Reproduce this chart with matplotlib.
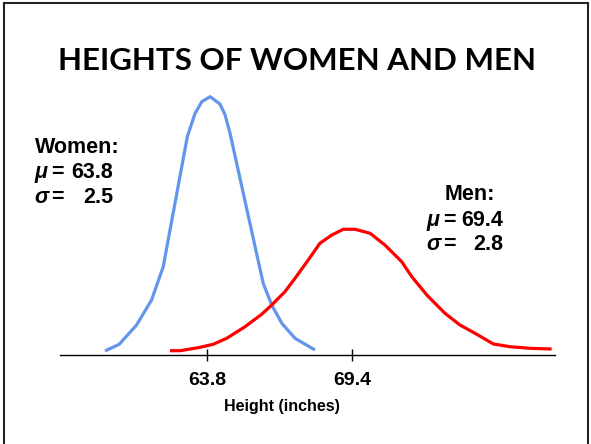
import matplotlib
matplotlib.use("Agg")
import matplotlib.pyplot as plt
from matplotlib.lines import Line2D

# ---- data (heights in inches, relative density in arbitrary units) ----
women_x = [59.86, 60.41, 61.08, 61.66, 62.11, 63.04, 63.34, 63.60, 63.92,
           64.30, 64.50, 64.69, 65.97, 66.30, 66.69, 67.20, 67.97]
women_y = [4.0, 10.7, 30.0, 55.0, 88.3, 218.3, 241.7, 253.3, 258.3,
           251.0, 240.0, 221.7, 71.7, 50.0, 31.7, 16.7, 5.0]

men_x = [62.37, 62.76, 63.46, 64.04, 64.56, 65.27, 65.91, 66.30, 66.81, 67.20,
         67.71, 68.16, 68.62, 69.06, 69.52, 70.10, 70.67, 71.32, 71.71, 72.29,
         72.99, 73.57, 74.22, 74.86, 75.50, 76.27, 77.11]
men_y = [4.3, 4.3, 7.3, 10.7, 16.7, 28.3, 40.7, 50.0, 63.3, 76.7,
         95.0, 111.7, 120.0, 125.7, 125.7, 121.7, 110.0, 93.3, 78.3, 60.0,
         41.7, 30.0, 20.7, 11.0, 8.3, 6.7, 6.0]

tick_values = [63.8, 69.4]
tick_labels = ["63.8", "69.4"]

title = "HEIGHTS OF WOMEN AND MEN"
xlabel = "Height (inches)"
women_stats = ("Women:", "63.8", "2.5")
men_stats = ("Men:", "69.4", "2.8")

# ---- figure ----
W, H = 591, 444
fig = plt.figure(figsize=(W / 100, H / 100), dpi=100)
fig.patch.set_facecolor("white")

def fx(x):
    return x / W

def fy(y):
    return 1 - y / H

# axes: x pixel 60..555, baseline at pixel 355, top at pixel 90
ax = fig.add_axes([fx(60), fy(355), (555 - 60) / W, (355 - 90) / H])
ax.set_xlim(58.123, 77.24)
ax.set_ylim(0, 265)
ax.patch.set_alpha(0)

ax.plot(women_x, women_y, color="#6495ED", lw=2.3, solid_joinstyle="round",
        solid_capstyle="butt")
ax.plot(men_x, men_y, color="#FF0000", lw=2.3, solid_joinstyle="round",
        solid_capstyle="butt")

for s in ["top", "right", "left"]:
    ax.spines[s].set_visible(False)
ax.spines["bottom"].set_linewidth(1.0)
ax.set_yticks([])
ax.set_xticks(tick_values)
ax.set_xticklabels(tick_labels, fontfamily="Liberation Sans", fontweight="bold",
                   fontsize=14)
ax.tick_params(axis="x", direction="inout", length=8, width=1.0, pad=8)

fig.text(fx(282), fy(406), xlabel, ha="center", va="center",
         fontfamily="Liberation Sans", fontweight="bold", fontsize=11.5)

fig.text(fx(297.5), fy(61), title, ha="center", va="center",
         fontfamily="Lato", fontweight="bold", fontsize=22.5)

# statistics blocks
def block(stats, x_head, y_head, x_sym, x_eq, x_right, y_mu, y_sig):
    kw = dict(fontfamily="Liberation Sans", fontweight="bold", fontsize=15.5,
              va="center")
    fig.text(fx(x_head), fy(y_head), stats[0], ha="left", **kw)
    fig.text(fx(x_sym), fy(y_mu), "\u03bc", ha="left", style="italic", **kw)
    fig.text(fx(x_eq), fy(y_mu), "=", ha="left", **kw)
    fig.text(fx(x_right), fy(y_mu), stats[1], ha="right", **kw)
    fig.text(fx(x_sym), fy(y_sig), "\u03c3", ha="left", style="italic", **kw)
    fig.text(fx(x_eq), fy(y_sig), "=", ha="left", **kw)
    fig.text(fx(x_right), fy(y_sig), stats[2], ha="right", **kw)

block(women_stats, 35, 147, 34, 51, 113, 172, 197)
block(men_stats, 445, 194, 426, 443, 503, 220, 244)

# slide border
for (x0, y0, x1, y1) in [(3.5, 444, 3.5, 3.5), (3.5, 3.5, 588, 3.5), (588, 3.5, 588, 444)]:
    fig.add_artist(Line2D([fx(x0), fx(x1)], [fy(y0), fy(y1)], color="#222222",
                          lw=1.5, transform=fig.transFigure))

fig.savefig("out.png", dpi=100, facecolor="white")
